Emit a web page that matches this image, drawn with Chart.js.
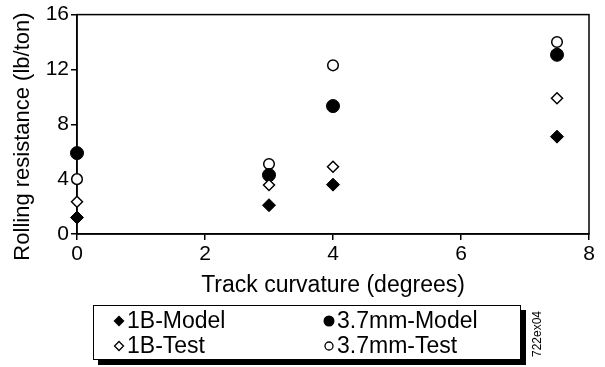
<!DOCTYPE html>
<html>
<head>
<meta charset="utf-8">
<script src="https://cdn.jsdelivr.net/npm/chart.js@4"></script>
<style>
  html, body { margin: 0; padding: 0; background: #fff; }
  #wrap { position: relative; width: 605px; height: 367px; font-family: "Liberation Sans", Arial, sans-serif; }
  #legend {
    position: absolute; left: 93px; top: 305px; width: 426px; height: 53px;
    border: 1.5px solid #000; background: #fff; box-shadow: 5px 5px 0 #000;
  }
  .item { position: absolute; font-size: 23px; line-height: 25px; color: #000; white-space: nowrap; }
  .item svg { position: absolute; left: -14px; top: 7px; }
  #tag {
    position: absolute; left: 509px; top: 327px; width: 56px; font-size: 12px;
    transform: rotate(-90deg); text-align: center; color: #000;
  }
</style>
</head>
<body>
<div id="wrap">
  <canvas id="rollChart" width="605" height="367"></canvas>
  <div id="legend"></div>
  <div id="tag">722ex04</div>
</div>
<script>
  const curvature = [0, 3, 4, 7.5];
  const model1B = [1.2, 2.1, 3.6, 7.1];
  const test1B = [2.35, 3.57, 4.9, 9.9];
  const model37 = [5.9, 4.3, 9.33, 13.07];
  const test37 = [4.0, 5.1, 12.3, 14.0];
  const xTicks = [0, 2, 4, 6, 8];
  const yTicks = [0, 4, 8, 12, 16];

  function pts(ys) {
    return curvature.map(function (x, i) { return { x: x, y: ys[i] }; });
  }

  Chart.defaults.color = "#000";
  Chart.defaults.font.family = '"Liberation Sans", Arial, sans-serif';

  const frame = {
    id: "frame",
    beforeDatasetsDraw(chart) {
      const a = chart.chartArea;
      const ctx = chart.ctx;
      ctx.save();
      ctx.strokeStyle = "#000";
      ctx.lineWidth = 1.5;
      ctx.strokeRect(a.left, a.top, a.right - a.left, a.bottom - a.top);
      ctx.restore();
    },
  };

  const rollChart = new Chart(document.getElementById("rollChart"), {
    type: "scatter",
    data: {
      datasets: [
        {
          label: "1B-Model",
          data: pts(model1B),
          pointStyle: "rectRot",
          pointRadius: 6.5,
          backgroundColor: "#000",
          borderColor: "#000",
          borderWidth: 1,
        },
        {
          label: "1B-Test",
          data: pts(test1B),
          pointStyle: "rectRot",
          pointRadius: 5.5,
          backgroundColor: "#fff",
          borderColor: "#000",
          borderWidth: 1.5,
        },
        {
          label: "3.7mm-Model",
          data: pts(model37),
          pointStyle: "circle",
          pointRadius: 6.5,
          backgroundColor: "#000",
          borderColor: "#000",
          borderWidth: 1,
        },
        {
          label: "3.7mm-Test",
          data: pts(test37),
          pointStyle: "circle",
          pointRadius: 5.3,
          backgroundColor: "#fff",
          borderColor: "#000",
          borderWidth: 1.5,
        },
      ],
    },
    options: {
      responsive: false,
      animation: false,
      clip: false,
      layout: { padding: { top: 14, right: 16, bottom: 64, left: 6 } },
      plugins: {
        legend: { display: false },
        tooltip: { enabled: false },
      },
      scales: {
        x: {
          type: "linear",
          min: 0,
          max: 8,
          afterFit(scale) { scale.height = 69; },
          afterBuildTicks(scale) { scale.ticks = xTicks.map(function (v) { return { value: v }; }); },
          ticks: { font: { size: 21 }, padding: 2, maxRotation: 0 },
          grid: { drawOnChartArea: false, color: "#000", lineWidth: 1.5, tickLength: 6 },
          border: { color: "#000", width: 1.5 },
          title: { display: true, text: "Track curvature (degrees)", font: { size: 23 } },
        },
        y: {
          min: 0,
          max: 16,
          afterFit(scale) { scale.width = 71; },
          afterBuildTicks(scale) { scale.ticks = yTicks.map(function (v) { return { value: v }; }); },
          ticks: { font: { size: 21 }, padding: 2 },
          grid: { drawOnChartArea: false, color: "#000", lineWidth: 1.5, tickLength: 6 },
          border: { color: "#000", width: 1.5 },
          // trailing spaces push the rotated title a little lower, as in the original
          title: { display: true, text: "Rolling resistance (lb/ton)\u00a0\u00a0\u00a0\u00a0", font: { size: 22 } },
        },
      },
    },
    plugins: [frame],
  });

  // legend built from the chart's datasets, two columns
  const legendPos = [
    { left: 33, top: 2 },
    { left: 33, top: 27 },
    { left: 243, top: 2 },
    { left: 243, top: 27 },
  ];
  const legend = document.getElementById("legend");
  rollChart.data.datasets.forEach(function (ds, i) {
    const filled = ds.backgroundColor === "#000";
    let mark;
    if (ds.pointStyle === "circle") {
      mark = filled
        ? '<circle cx="6" cy="6" r="5.5" fill="#000"/>'
        : '<circle cx="6" cy="6" r="4" fill="#fff" stroke="#000" stroke-width="1.3"/>';
    } else {
      mark = filled
        ? '<polygon points="6,0.5 11.5,6 6,11.5 0.5,6" fill="#000"/>'
        : '<polygon points="6,1.5 10.5,6 6,10.5 1.5,6" fill="#fff" stroke="#000" stroke-width="1.3"/>';
    }
    const el = document.createElement("div");
    el.className = "item";
    el.style.left = legendPos[i].left + "px";
    el.style.top = legendPos[i].top + "px";
    el.innerHTML = '<svg width="12" height="12">' + mark + "</svg>" + ds.label;
    legend.appendChild(el);
  });
</script>
</body>
</html>
